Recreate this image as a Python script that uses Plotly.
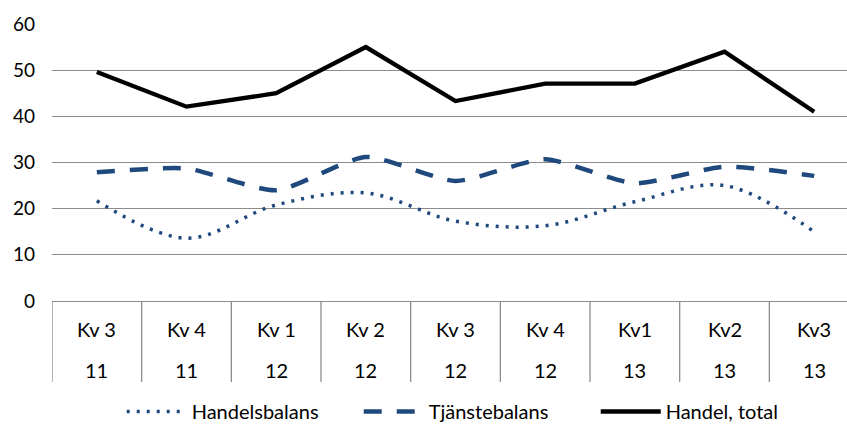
import plotly.graph_objects as go

quarters = ["Kv 3", "Kv 4", "Kv 1", "Kv 2", "Kv 3", "Kv 4", "Kv1", "Kv2", "Kv3"]
years = ["11", "11", "12", "12", "12", "12", "13", "13", "13"]

handelsbalans = [21.7, 13.6, 20.8, 23.4, 17.3, 16.3, 21.5, 25.0, 15.0]
tjanstebalans = [27.9, 28.7, 24.0, 31.2, 26.0, 30.7, 25.5, 29.1, 27.1]
handel_total = [49.6, 42.1, 45.0, 55.0, 43.3, 47.1, 47.1, 54.0, 41.0]

y_ticks = [0, 10, 20, 30, 40, 50, 60]

x = [f"{q} {y}" for q, y in zip(quarters, years)]

BLUE = "#1F497D"
GRID = "#8C8C8C"
FONT = "Lato"

fig = go.Figure()
fig.add_trace(go.Scatter(
    x=x, y=handelsbalans, name="Handelsbalans", mode="lines",
    line=dict(color=BLUE, width=3.5, dash="3px,7px", shape="spline", smoothing=1.0),
))
fig.add_trace(go.Scatter(
    x=x, y=tjanstebalans, name="Tjänstebalans", mode="lines",
    line=dict(color=BLUE, width=4.5, dash="18px,15px", shape="spline", smoothing=0.6),
))
fig.add_trace(go.Scatter(
    x=x, y=handel_total, name="Handel, total", mode="lines",
    line=dict(color="black", width=4.3),
))

shapes = []
for i in range(len(x)):
    shapes.append(dict(type="line", xref="x", yref="paper",
                       x0=i - 0.5, x1=i - 0.5, y0=0, y1=-0.292,
                       line=dict(color=GRID, width=1.3)))

annotations = []
for i, (q, yr) in enumerate(zip(quarters, years)):
    annotations.append(dict(x=i, y=-0.10, xref="x", yref="paper", text=q,
                            showarrow=False, font=dict(family=FONT, size=20, color="black"),
                            yanchor="middle", xanchor="center"))
    annotations.append(dict(x=i, y=-0.248, xref="x", yref="paper", text=yr,
                            showarrow=False, font=dict(family=FONT, size=20, color="black"),
                            yanchor="middle", xanchor="center"))

fig.update_layout(
    width=847, height=426,
    margin=dict(l=52, r=0, t=24, b=125, autoexpand=False),
    paper_bgcolor="white", plot_bgcolor="white",
    font=dict(family=FONT, size=20, color="black"),
    showlegend=True,
    legend=dict(orientation="h", xref="container", yref="container",
                x=0.1437, xanchor="left", y=0.034, yanchor="middle",
                font=dict(family=FONT, size=20, color="black"),
                entrywidth=162, entrywidthmode="pixels", itemwidth=60,
                bgcolor="rgba(0,0,0,0)", tracegroupgap=0),
    xaxis=dict(type="category", range=[-0.5, 8.366], showgrid=False, showticklabels=False,
               zeroline=False, showline=False, ticks="", automargin=False),
    yaxis=dict(range=[0, 60], tickvals=y_ticks, showgrid=True, gridcolor=GRID, gridwidth=1.3,
               zeroline=True, zerolinecolor=GRID, zerolinewidth=1.3, showline=False,
               automargin=False,
               ticks="", ticklabelstandoff=16, tickfont=dict(family=FONT, size=19, color="black")),
    shapes=shapes,
    annotations=annotations,
)

fig.write_html("out.html",
               config={"displayModeBar": False},
               post_script="document.body.style.margin='0';document.body.style.overflow='hidden';")
